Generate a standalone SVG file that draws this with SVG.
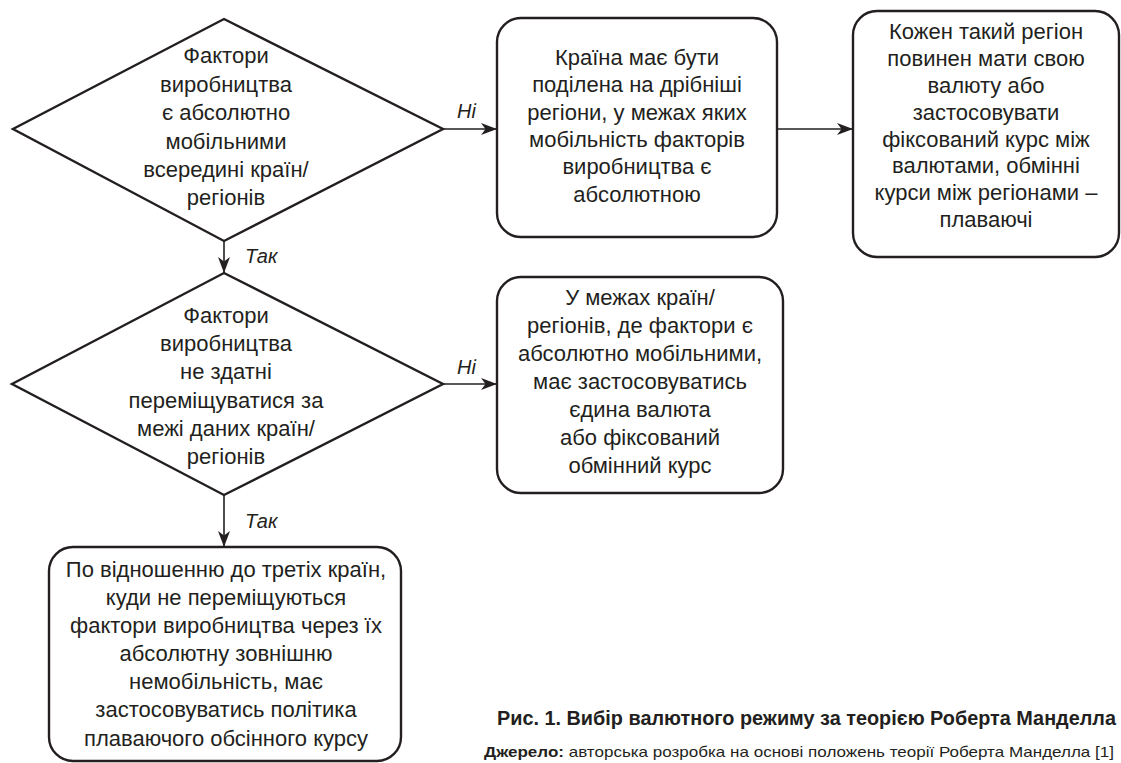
<svg xmlns="http://www.w3.org/2000/svg" width="1121" height="763" viewBox="0 0 1121 763">
<defs>
<style>
.shape{fill:#fff;stroke:#231f20;stroke-width:2.4}
.t{font-family:"Liberation Sans",Arial,sans-serif;font-size:22px;fill:#231f20;text-anchor:middle}
.lbl{font-family:"Liberation Sans",Arial,sans-serif;font-size:20px;font-style:italic;fill:#231f20}
.conn{fill:none;stroke:#231f20;stroke-width:1.6}
.cap{font-family:"Liberation Sans",Arial,sans-serif;fill:#231f20}
</style>
<marker id="arr" markerUnits="userSpaceOnUse" markerWidth="17" markerHeight="13" refX="16" refY="6.5" orient="auto">
<path d="M0,0.5 L16,6.5 L0,12.5 L4.5,6.5 z" fill="#231f20"/>
</marker>
</defs>
<rect width="1121" height="763" fill="#fff"/>

<g id="connectors">
<line class="conn" x1="224" y1="241" x2="224" y2="273" marker-end="url(#arr)"/>
<line class="conn" x1="224" y1="495" x2="224" y2="547" marker-end="url(#arr)"/>
<line class="conn" x1="443" y1="129" x2="497" y2="129" marker-end="url(#arr)"/>
<line class="conn" x1="777" y1="129" x2="853" y2="129" marker-end="url(#arr)"/>
<line class="conn" x1="443" y1="384" x2="497" y2="384" marker-end="url(#arr)"/>
<text class="lbl" x="245" y="263">Так</text>
<text class="lbl" x="245" y="528">Так</text>
<text class="lbl" x="457" y="118">Ні</text>
<text class="lbl" x="457" y="374">Ні</text>
</g>

<g id="decision1">
<polygon class="shape" points="224,19 443,129 224,241 13,129"/>
<text class="t" x="226" y="63">Фактори</text>
<text class="t" x="226" y="92">виробництва</text>
<text class="t" x="226" y="120">є абсолютно</text>
<text class="t" x="226" y="149">мобільними</text>
<text class="t" x="226" y="177">всередині країн/</text>
<text class="t" x="226" y="205">регіонів</text>
</g>

<g id="box1">
<rect class="shape" x="497" y="18" width="280" height="219" rx="24"/>
<text class="t" x="637" y="65">Країна має бути</text>
<text class="t" x="637" y="92">поділена на дрібніші</text>
<text class="t" x="637" y="120">регіони, у межах яких</text>
<text class="t" x="637" y="147">мобільність факторів</text>
<text class="t" x="637" y="174">виробництва є</text>
<text class="t" x="637" y="202">абсолютною</text>
</g>

<g id="box3">
<rect class="shape" x="853" y="11" width="266" height="246" rx="24"/>
<text class="t" x="986" y="39">Кожен такий регіон</text>
<text class="t" x="986" y="66">повинен мати свою</text>
<text class="t" x="986" y="93">валюту або</text>
<text class="t" x="986" y="120">застосовувати</text>
<text class="t" x="986" y="147">фіксований курс між</text>
<text class="t" x="986" y="173">валютами, обмінні</text>
<text class="t" x="986" y="200">курси між регіонами –</text>
<text class="t" x="986" y="227">плаваючі</text>
</g>

<g id="decision2">
<polygon class="shape" points="224,273 443,384 224,495 12,384"/>
<text class="t" x="226" y="323">Фактори</text>
<text class="t" x="226" y="351">виробництва</text>
<text class="t" x="226" y="379">не здатні</text>
<text class="t" x="226" y="408">переміщуватися за</text>
<text class="t" x="226" y="436">межі даних країн/</text>
<text class="t" x="226" y="464">регіонів</text>
</g>

<g id="box2">
<rect class="shape" x="497" y="277" width="286" height="216" rx="24"/>
<text class="t" x="640" y="305">У межах країн/</text>
<text class="t" x="640" y="333">регіонів, де фактори є</text>
<text class="t" x="640" y="361">абсолютно мобільними,</text>
<text class="t" x="640" y="389">має застосовуватись</text>
<text class="t" x="640" y="417">єдина валюта</text>
<text class="t" x="640" y="445">або фіксований</text>
<text class="t" x="640" y="473">обмінний курс</text>
</g>

<g id="box4">
<rect class="shape" x="49" y="547" width="352" height="214" rx="24"/>
<text class="t" x="226" y="577">По відношенню до третіх країн,</text>
<text class="t" x="226" y="605">куди не переміщуються</text>
<text class="t" x="226" y="633">фактори виробництва через їх</text>
<text class="t" x="226" y="661">абсолютну зовнішню</text>
<text class="t" x="226" y="689">немобільність, має</text>
<text class="t" x="226" y="717">застосовуватись політика</text>
<text class="t" x="226" y="746">плаваючого обсінного курсу</text>
</g>

<g id="caption">
<text class="cap" x="497" y="725" font-size="20" font-weight="bold" textLength="619" lengthAdjust="spacingAndGlyphs">Рис. 1. Вибір валютного режиму за теорією Роберта Манделла</text>
<text class="cap" x="484" y="757" font-size="15" textLength="630" lengthAdjust="spacingAndGlyphs"><tspan font-weight="bold">Джерело:</tspan> авторська розробка на основі положень теорії Роберта Манделла [1]</text>
</g>
</svg>
